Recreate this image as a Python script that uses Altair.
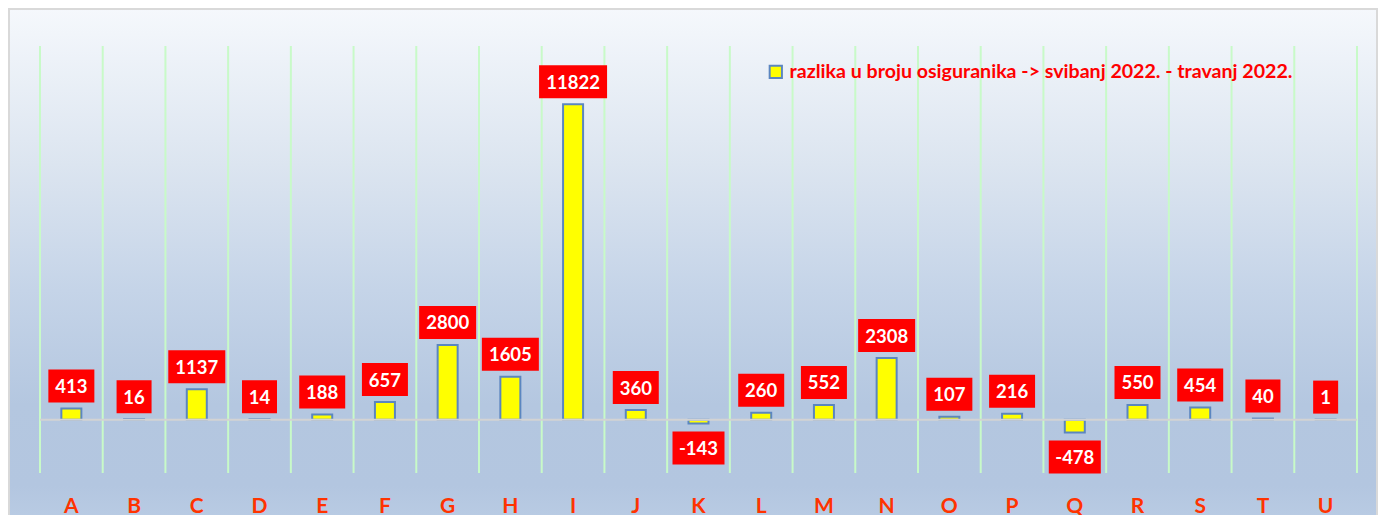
import altair as alt
import numpy as np
import pandas as pd

categories = list("ABCDEFGHIJKLMNOPQRSTU")
values = [413, 16, 1137, 14, 188, 657, 2800, 1605, 11822, 360, -143,
          260, 552, 2308, 107, 216, -478, 550, 454, 40, 1]
series_name = "razlika u broju osiguranika -> svibanj 2022. - travanj 2022."

W, H = 1317, 427
Y_MIN, Y_MAX = -2000, 14000
ppu = H / (Y_MAX - Y_MIN)  # pixels per unit

df = pd.DataFrame({"cat": categories, "value": values})
df["series"] = series_name
df["label"] = df["value"].astype(str)
pos = df["value"] >= 0
gap_pos, gap_neg, box_h = 6, 8, 33
df["box_lo"] = np.where(pos, df.value + gap_pos / ppu, df.value - (gap_neg + box_h) / ppu)
df["box_hi"] = np.where(pos, df.value + (gap_pos + box_h) / ppu, df.value - gap_neg / ppu)
df["box_mid"] = (df.box_lo + df.box_hi) / 2
df["box_w"] = (14 + 10.7 * df.value.abs().astype(str).str.len() + 6 * (~pos)).round().astype(int)

xscale = alt.Scale(domain=categories, paddingInner=0, paddingOuter=0)
yscale = alt.Scale(domain=[Y_MIN, Y_MAX], nice=False, zero=False)

FONT = "Lato"
GRID = "#C8FAC8"

bg = alt.Chart(pd.DataFrame({"a": [0]})).mark_rect(
    fill=alt.Gradient(
        gradient="linear", x1=0, x2=0, y1=0, y2=1,
        stops=[
            alt.GradientStop(offset=0.0, color="#F5F8FC"),
            alt.GradientStop(offset=0.27, color="#DCE5F0"),
            alt.GradientStop(offset=0.49, color="#C5D4E8"),
            alt.GradientStop(offset=0.69, color="#B4C7E0"),
            alt.GradientStop(offset=0.83, color="#B3C6E0"),
            alt.GradientStop(offset=1.0, color="#C4D5EA"),
        ],
    ),
    stroke="#D9D9D9", strokeWidth=2, clip=False,
).encode(
    x=alt.value(-31), x2=alt.value(W + 20),
    y=alt.value(-37), y2=alt.value(H + 110),
)

base = alt.Chart(df)

xaxis = alt.Axis(
    orient="bottom", domain=False, ticks=False, tickSize=0, zindex=1, grid=False,
    labelAngle=0, labelColor="#FF3300", labelFont=FONT, labelFontWeight="bold",
    labelFontSize=21, labelPadding=39, labelBaseline="alphabetic",
)
xenc = alt.X("cat:N", scale=xscale, sort=categories, title=None, axis=xaxis)

# vertical grid lines at category boundaries
grid_start = base.mark_rule(color=GRID, strokeWidth=2).encode(
    x=alt.X("cat:N", scale=xscale, sort=categories, title=None, axis=xaxis, bandPosition=0),
    y=alt.value(0), y2=alt.value(H),
)
grid_end = base.transform_filter(f"datum.cat == '{categories[-1]}'").mark_rule(
    color=GRID, strokeWidth=2
).encode(
    x=alt.X("cat:N", scale=xscale, sort=categories, title=None, axis=xaxis, bandPosition=1),
    y=alt.value(0), y2=alt.value(H),
)

bars = base.mark_bar(width=20, stroke="#5B86C0", strokeWidth=2).encode(
    x=xenc,
    y=alt.Y("value:Q", scale=yscale, axis=None),
    y2=alt.datum(0),
    color=alt.Color(
        "series:N",
        scale=alt.Scale(domain=[series_name], range=["#FFFF00"]),
        legend=alt.Legend(
            title=None, orient="none", legendX=726, legendY=16, padding=0,
            symbolType="square", symbolSize=150, symbolStrokeColor="#5B86C0",
            symbolStrokeWidth=2, symbolFillColor="#FFFF00",
            labelColor="#FF0000", labelFont=FONT, labelFontWeight="bold",
            labelFontSize=19.6, labelLimit=0, labelOffset=4,
        ),
    ),
)

zero = alt.Chart(pd.DataFrame({"z": [0]})).mark_rule(color="#D3D3D3", strokeWidth=2).encode(
    y=alt.Y("z:Q", scale=yscale, axis=None),
    x=alt.value(0), x2=alt.value(W),
)

boxes = []
for w in sorted(df["box_w"].unique()):
    boxes.append(
        base.transform_filter(f"datum.box_w == {w}").mark_bar(
            width=int(w), color="#FF0000"
        ).encode(
            x=alt.X("cat:N", scale=xscale, sort=categories, title=None, axis=xaxis),
            y=alt.Y("box_lo:Q", scale=yscale),
            y2="box_hi:Q",
        )
    )

labels = base.mark_text(
    color="white", font=FONT, fontWeight="bold", fontSize=18.5,
    baseline="middle", dy=1,
).encode(
    x=alt.X("cat:N", scale=xscale, sort=categories, title=None, axis=xaxis),
    y=alt.Y("box_mid:Q", scale=yscale),
    text="label:N",
)

chart = alt.layer(bg, grid_start, grid_end, bars, zero, *boxes, labels).properties(
    width=W, height=H,
    autosize=alt.AutoSizeParams(type="none"),
    padding={"left": 32, "top": 38, "right": 21, "bottom": 42},
).configure_view(stroke=None).configure(background="white")

chart.save("out.html", embed_options={"renderer": "svg", "actions": False})
